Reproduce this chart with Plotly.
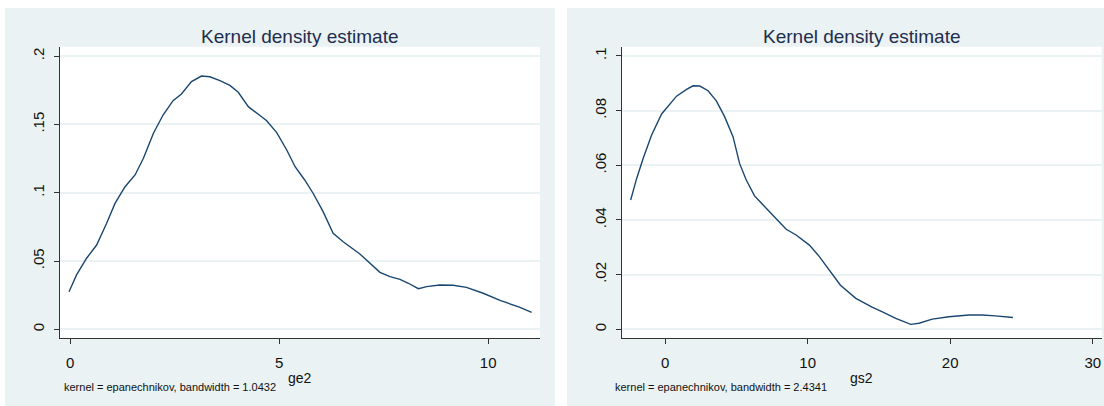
import plotly.graph_objects as go

# Kernel density estimate of ge2 (epanechnikov kernel, bandwidth 1.0432)
ge2_x = [-0.03, 0.15, 0.39, 0.63, 0.87, 1.07, 1.31, 1.55, 1.75, 1.99, 2.22, 2.46,
         2.66, 2.90, 3.14, 3.34, 3.58, 3.82, 4.02, 4.26, 4.50, 4.70, 4.94, 5.18,
         5.38, 5.61, 5.81, 6.05, 6.29, 6.53, 6.93, 7.17, 7.41, 7.65, 7.89, 8.09,
         8.33, 8.53, 8.84, 9.16, 9.48, 9.88, 10.30, 10.76, 11.04]
ge2_density = [0.0275, 0.0398, 0.0520, 0.0617, 0.0776, 0.0922, 0.1044, 0.1130, 0.1252,
               0.1435, 0.1569, 0.1674, 0.1723, 0.1813, 0.1854, 0.1849, 0.1820, 0.1786,
               0.1735, 0.1630, 0.1574, 0.1527, 0.1440, 0.1313, 0.1190, 0.1093, 0.0996,
               0.0861, 0.0703, 0.0641, 0.0551, 0.0483, 0.0417, 0.0385, 0.0366, 0.0337,
               0.0297, 0.0312, 0.0324, 0.0322, 0.0307, 0.0264, 0.0210, 0.0161, 0.0124]

# Kernel density estimate of gs2 (epanechnikov kernel, bandwidth 2.4341)
gs2_x = [-2.42, -2.00, -1.54, -0.95, -0.25, 0.80, 1.50, 1.96, 2.43, 3.01, 3.59, 4.17,
         4.76, 5.22, 5.69, 6.27, 7.09, 8.02, 8.49, 9.19, 10.12, 10.82, 11.52, 12.30,
         13.38, 14.55, 15.24, 16.18, 17.23, 17.81, 18.74, 19.91, 21.31, 22.24, 23.17,
         24.10, 24.40]
gs2_density = [0.0473, 0.0552, 0.0626, 0.0711, 0.0788, 0.0853, 0.0878, 0.0891, 0.0890,
               0.0873, 0.0836, 0.0778, 0.0705, 0.0607, 0.0546, 0.0488, 0.0443, 0.0394,
               0.0366, 0.0345, 0.0308, 0.0266, 0.0216, 0.0161, 0.0113, 0.0080, 0.0064,
               0.0040, 0.0018, 0.0022, 0.0037, 0.0046, 0.0052, 0.0052, 0.0049, 0.0044,
               0.0043]

ge2_xticks = [0, 5, 10]
ge2_yticks = [0, 0.05, 0.1, 0.15, 0.2]
ge2_ytext = ["0", ".05", ".1", ".15", ".2"]
gs2_xticks = [0, 10, 20, 30]
gs2_yticks = [0, 0.02, 0.04, 0.06, 0.08, 0.1]
gs2_ytext = ["0", ".02", ".04", ".06", ".08", ".1"]

panel_title = "Kernel density estimate"
notes = ["kernel = epanechnikov, bandwidth = 1.0432",
         "kernel = epanechnikov, bandwidth = 2.4341"]
x_titles = ["ge2", "gs2"]

W, H = 1104, 406
LINE = "#1A476F"
REGION = "#EAF2F3"
GRID = "#EAF2F3"
TITLE_COL = "#1F2D4E"
FONT = "Liberation Sans, Arial, sans-serif"

# pixel geometry of the two panels
panels = [
    dict(bg=(5, 555), plot=(60, 540), note_x=62),
    dict(bg=(567, 1104), plot=(621.7, 1101.7), note_x=613),
]
plot_top, plot_bottom = 46.7, 338.3


def px(x):
    return x / W


def py(y):
    return 1 - y / H


fig = go.Figure()
fig.add_trace(go.Scatter(x=ge2_x, y=ge2_density, mode="lines",
                         line=dict(color=LINE, width=1.4), xaxis="x", yaxis="y",
                         showlegend=False, hoverinfo="x+y"))
fig.add_trace(go.Scatter(x=gs2_x, y=gs2_density, mode="lines",
                         line=dict(color=LINE, width=1.4), xaxis="x2", yaxis="y2",
                         showlegend=False, hoverinfo="x+y"))

shapes = []
annotations = []
for i, p in enumerate(panels):
    shapes.append(dict(type="rect", xref="paper", yref="paper", layer="below",
                       x0=px(p["bg"][0]), x1=px(p["bg"][1]), y0=py(H), y1=py(8),
                       fillcolor=REGION, line=dict(width=0)))
    shapes.append(dict(type="rect", xref="paper", yref="paper", layer="below",
                       x0=px(p["plot"][0]), x1=px(p["plot"][1]),
                       y0=py(plot_bottom), y1=py(plot_top),
                       fillcolor="white", line=dict(width=0)))
    cx = (p["plot"][0] + p["plot"][1]) / 2
    annotations.append(dict(text=panel_title, xref="paper", yref="paper",
                            x=px(cx), y=py(37), xanchor="center", yanchor="middle",
                            showarrow=False, font=dict(size=19, color=TITLE_COL, family=FONT)))
    annotations.append(dict(text=x_titles[i], xref="paper", yref="paper",
                            x=px(cx), y=py(378), xanchor="center", yanchor="middle",
                            showarrow=False, font=dict(size=14, color="#111", family=FONT)))
    annotations.append(dict(text=notes[i], xref="paper", yref="paper",
                            x=px(p["note_x"]), y=py(387), xanchor="left", yanchor="middle",
                            showarrow=False, font=dict(size=11, color="#111", family=FONT)))

axis_common = dict(showline=True, linecolor="#333", linewidth=1, ticks="outside",
                   ticklen=5, tickcolor="#333", tickfont=dict(size=15, color="#111", family=FONT),
                   zeroline=False, showgrid=False, fixedrange=True)
xaxis_common = dict(axis_common, ticklabelstandoff=6)
yaxis_common = dict(axis_common, showgrid=True, gridcolor=GRID, gridwidth=1.5,
                    tickangle=-90, ticklabelstandoff=4)

ydom = [py(plot_bottom), py(plot_top)]
fig.update_layout(
    width=W, height=H,
    margin=dict(l=0, r=0, t=0, b=0),
    paper_bgcolor="white",
    plot_bgcolor="rgba(0,0,0,0)",
    font=dict(family=FONT),
    xaxis=dict(xaxis_common, domain=[px(60), px(540)], range=[-0.246, 11.24],
               tickvals=ge2_xticks, anchor="y"),
    yaxis=dict(yaxis_common, domain=ydom, range=[-0.0066, 0.2069],
               tickvals=ge2_yticks, ticktext=ge2_ytext, anchor="x"),
    xaxis2=dict(xaxis_common, domain=[px(621.7), px(1101.7)], range=[-3.05, 30.63],
                tickvals=gs2_xticks, anchor="y2"),
    yaxis2=dict(yaxis_common, domain=ydom, range=[-0.0033, 0.1034],
                tickvals=gs2_yticks, ticktext=gs2_ytext, anchor="x2"),
    shapes=shapes,
    annotations=annotations,
)

fig.write_html("out.html")
